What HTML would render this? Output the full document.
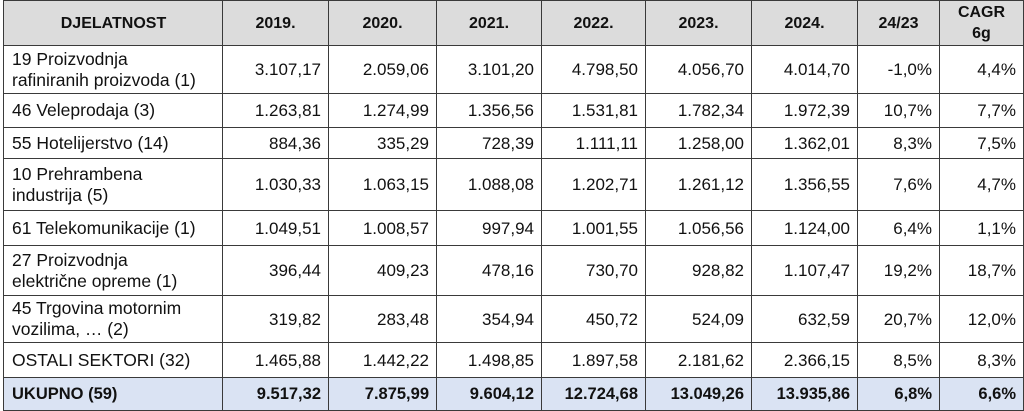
<!DOCTYPE html>
<html><head><meta charset="utf-8"><style>
html,body{margin:0;padding:0;background:#fff;width:1024px;height:411px;overflow:hidden}
table{position:absolute;left:3px;top:0;border-collapse:collapse;table-layout:fixed;font-family:"Liberation Sans",sans-serif;font-size:17px;color:#111}
td{border:1.5px solid #3a3a3a;padding:0 7px;text-align:right;line-height:21px;white-space:nowrap;overflow:hidden}
td:first-child{text-align:left;padding-left:8px;font-size:17.5px}
tr.h td{background:#dcdcdc;font-weight:bold;text-align:center;font-size:16px}
tr.t td{background:#dae3f3;font-weight:bold;font-size:16.5px}
</style></head><body>
<table>
<colgroup><col style="width:219px"><col style="width:106px"><col style="width:108px"><col style="width:105px"><col style="width:104px"><col style="width:106px"><col style="width:106px"><col style="width:82px"><col style="width:84px"></colgroup>
<tr class="h" style="height:45px"><td style="text-align:center;font-size:16px">DJELATNOST</td><td>2019.</td><td>2020.</td><td>2021.</td><td>2022.</td><td>2023.</td><td>2024.</td><td>24/23</td><td>CAGR<br>6g</td></tr>
<tr style="height:48px"><td>19 Proizvodnja<br>rafiniranih proizvoda (1)</td><td>3.107,17</td><td>2.059,06</td><td>3.101,20</td><td>4.798,50</td><td>4.056,70</td><td>4.014,70</td><td>-1,0%</td><td>4,4%</td></tr>
<tr style="height:34px"><td>46 Veleprodaja (3)</td><td>1.263,81</td><td>1.274,99</td><td>1.356,56</td><td>1.531,81</td><td>1.782,34</td><td>1.972,39</td><td>10,7%</td><td>7,7%</td></tr>
<tr style="height:31px"><td>55 Hotelijerstvo (14)</td><td>884,36</td><td>335,29</td><td>728,39</td><td>1.111,11</td><td>1.258,00</td><td>1.362,01</td><td>8,3%</td><td>7,5%</td></tr>
<tr style="height:52px"><td>10 Prehrambena<br>industrija (5)</td><td>1.030,33</td><td>1.063,15</td><td>1.088,08</td><td>1.202,71</td><td>1.261,12</td><td>1.356,55</td><td>7,6%</td><td>4,7%</td></tr>
<tr style="height:35px"><td>61 Telekomunikacije (1)</td><td>1.049,51</td><td>1.008,57</td><td>997,94</td><td>1.001,55</td><td>1.056,56</td><td>1.124,00</td><td>6,4%</td><td>1,1%</td></tr>
<tr style="height:50px"><td>27 Proizvodnja<br>električne opreme (1)</td><td>396,44</td><td>409,23</td><td>478,16</td><td>730,70</td><td>928,82</td><td>1.107,47</td><td>19,2%</td><td>18,7%</td></tr>
<tr style="height:47px"><td>45 Trgovina motornim<br>vozilima, … (2)</td><td>319,82</td><td>283,48</td><td>354,94</td><td>450,72</td><td>524,09</td><td>632,59</td><td>20,7%</td><td>12,0%</td></tr>
<tr style="height:35px"><td>OSTALI SEKTORI (32)</td><td>1.465,88</td><td>1.442,22</td><td>1.498,85</td><td>1.897,58</td><td>2.181,62</td><td>2.366,15</td><td>8,5%</td><td>8,3%</td></tr>
<tr class="t" style="height:33px"><td style="font-size:16.5px">UKUPNO (59)</td><td>9.517,32</td><td>7.875,99</td><td>9.604,12</td><td>12.724,68</td><td>13.049,26</td><td>13.935,86</td><td>6,8%</td><td>6,6%</td></tr>
</table>
</body></html>
